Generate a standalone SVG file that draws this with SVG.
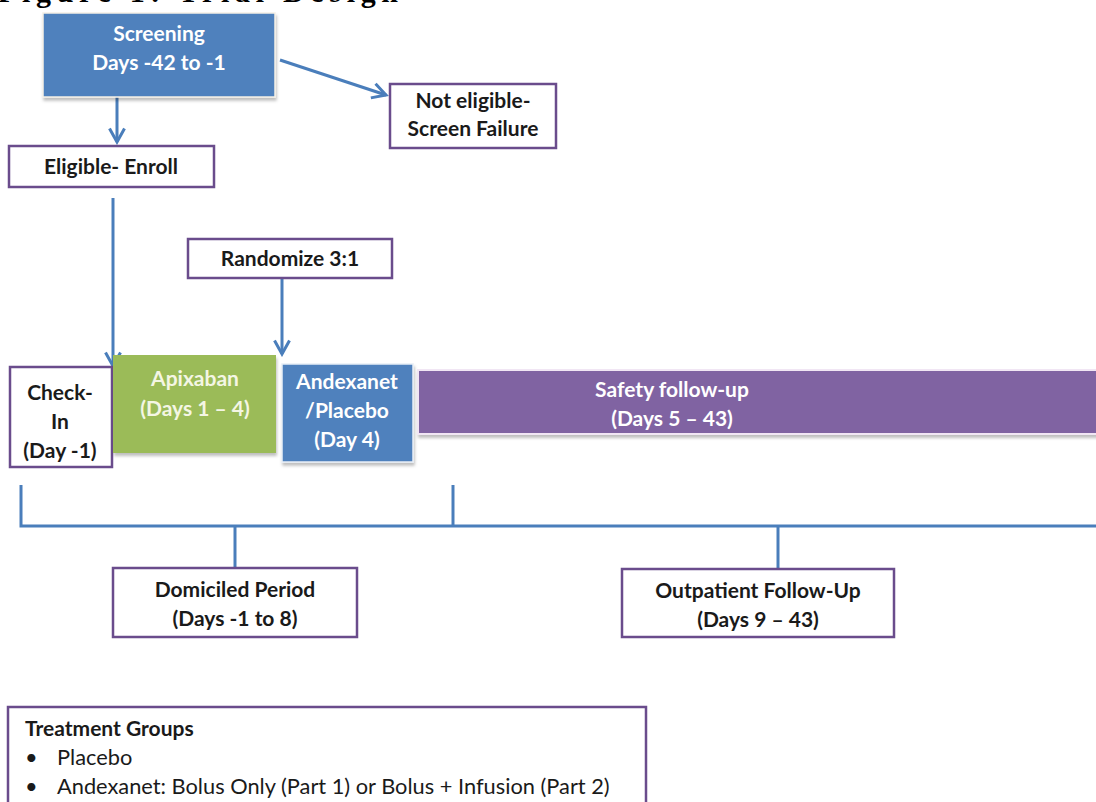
<svg xmlns="http://www.w3.org/2000/svg" width="1096" height="802" viewBox="0 0 1096 802">
<defs>
<style>
.t{font-family:Lato,"Open Sans","Liberation Sans",sans-serif;font-weight:bold;font-size:21px;text-anchor:middle;fill:#1a1a1a}
.w{fill:#ffffff}
.g{fill:#f4f6e4}
.n{font-family:Lato,"Open Sans","Liberation Sans",sans-serif;font-size:21.8px;fill:#1a1a1a}
.box{fill:#ffffff;stroke:#6a4c8c;stroke-width:2.5}
.c{fill:none;stroke:#4a7ebb;stroke-width:3}
</style>
<marker id="ah" viewBox="0 0 12 12" refX="10" refY="6" markerWidth="6" markerHeight="6" markerUnits="strokeWidth" orient="auto">
<path d="M1,1 L10,6 L1,11" fill="none" stroke="#4a7ebb" stroke-width="2"/>
</marker>
<filter id="sh" x="-5%" y="-5%" width="115%" height="130%">
<feDropShadow dx="1" dy="3" stdDeviation="1.5" flood-color="#000" flood-opacity="0.25"/>
</filter>
</defs>
<rect width="1096" height="802" fill="#ffffff"/>
<text x="-2" y="2" textLength="400" lengthAdjust="spacing" style="font-family:'Liberation Serif',serif;font-weight:bold;font-size:30px;fill:#000">Figure 1: Trial Design</text>
<g id="connectors">
<path class="c" d="M117,97 V142" marker-end="url(#ah)"/>
<path class="c" d="M280,60 L386,95" marker-end="url(#ah)"/>
<path class="c" d="M113,198 V366" marker-end="url(#ah)"/>
<path class="c" d="M282,278 V354" marker-end="url(#ah)"/>
<path class="c" d="M21,485 V526 H1096"/>
<path class="c" d="M453,485 V526"/>
<path class="c" d="M235,526 V568"/>
<path class="c" d="M778,526 V569"/>
</g>
<g id="screening">
<rect x="43" y="13" width="232" height="84" fill="#4f81bd" stroke="#f5f0e6" stroke-width="1.5" filter="url(#sh)"/>
<text class="t w" x="159" y="41">Screening</text>
<text class="t w" x="159" y="70">Days -42 to -1</text>
</g>
<g id="not-eligible">
<rect class="box" x="390" y="84" width="166" height="64"/>
<text class="t" x="473" y="108">Not eligible-</text>
<text class="t" x="473" y="136">Screen Failure</text>
</g>
<g id="enroll">
<rect class="box" x="9" y="146" width="205" height="41"/>
<text class="t" x="111" y="174">Eligible- Enroll</text>
</g>
<g id="randomize">
<rect class="box" x="188" y="239" width="204" height="39"/>
<text class="t" x="290" y="266">Randomize 3:1</text>
</g>
<g id="check-in">
<rect class="box" x="10" y="367" width="102" height="100"/>
<text class="t" x="60" y="400">Check-</text>
<text class="t" x="60" y="429">In</text>
<text class="t" x="60" y="458">(Day -1)</text>
</g>
<g id="apixaban">
<rect x="113" y="355" width="163" height="98" fill="#9bbb59" filter="url(#sh)"/>
<text class="t g" x="195" y="386">Apixaban</text>
<text class="t g" x="195" y="416">(Days 1 – 4)</text>
</g>
<g id="andexanet">
<rect x="282" y="364" width="131" height="98" fill="#4f81bd" stroke="#e8eef6" stroke-width="1.5" filter="url(#sh)"/>
<text class="t w" x="347" y="389">Andexanet</text>
<text class="t w" x="347" y="418">/Placebo</text>
<text class="t w" x="347" y="447">(Day 4)</text>
</g>
<g id="safety">
<rect x="418" y="370" width="690" height="64" fill="#8064a2" stroke="#f1e6f4" stroke-width="2" filter="url(#sh)"/>
<text class="t w" x="672" y="397">Safety follow-up</text>
<text class="t w" x="672" y="426">(Days 5 – 43)</text>
</g>
<g id="domiciled">
<rect class="box" x="113" y="568" width="244" height="69"/>
<text class="t" x="235" y="597">Domiciled Period</text>
<text class="t" x="235" y="626">(Days -1 to 8)</text>
</g>
<g id="outpatient">
<rect class="box" x="622" y="569" width="272" height="68"/>
<text class="t" x="758" y="598">Outpatient Follow-Up</text>
<text class="t" x="758" y="627">(Days 9 – 43)</text>
</g>
<g id="treatment-groups">
<rect class="box" x="8" y="707" width="638" height="110"/>
<text class="t" x="25" y="736" style="text-anchor:start">Treatment Groups</text>
<text class="n" x="25" y="765">•</text>
<text class="n" x="57" y="765">Placebo</text>
<text class="n" x="25" y="794">•</text>
<text class="n" x="57" y="794">Andexanet: Bolus Only (Part 1) or Bolus + Infusion (Part 2)</text>
</g>
</svg>
